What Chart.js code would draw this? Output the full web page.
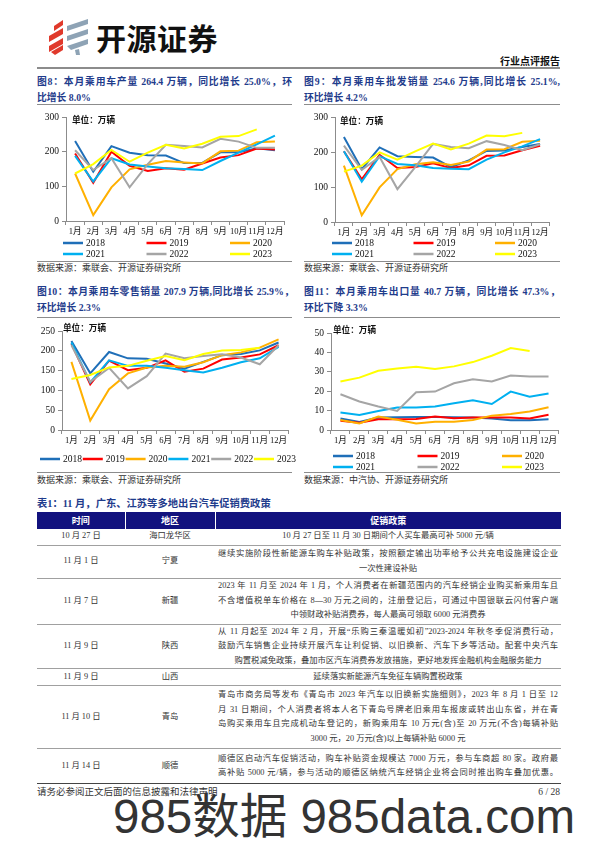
<!DOCTYPE html>
<html>
<head>
<meta charset="utf-8">
<title>行业点评报告 - 乘用车</title>
<script src="https://cdn.jsdelivr.net/npm/chart.js"></script>
<style>
  body { margin: 0; width: 596px; height: 842px; position: relative; overflow: hidden; background: #fff;
         font-family: 'Liberation Serif', 'Noto Sans CJK SC', serif; color: #222; }
  .abs { position: absolute; }
  .ftitle { position: absolute; color: #1f3c8c; font-weight: bold; font-size: 9.8px; line-height: 16px; }
  .just { text-align: justify; text-align-last: justify; }
  .rule { position: absolute; height: 0; border-top: 1px solid #8c8c8c; }
  .src { position: absolute; font-size: 9px; line-height: 12px; color: #333; }
  .unit { position: absolute; font-size: 8.6px; font-weight: bold; color: #111; line-height: 10px; }
  canvas { position: absolute; }
  table { position: absolute; left: 37px; top: 512px; width: 524px; border-collapse: collapse; table-layout: fixed;
          font-size: 8.3px; color: #333; }
  th { background: #12127e; color: #fff; font-weight: bold; height: 17px; padding: 0; font-size: 9px;
       border-left: 1px solid #fff; }
  th:first-child { border-left: none; }
  td { border-bottom: 1px solid #a0a0a0; padding: 0 3px; text-align: center; line-height: 14.6px; }
  tr.last td { border-bottom: 1.5px solid #444; }
  td .j { text-align: justify; text-align-last: justify; }
</style>
</head>
<body>

<!-- 页眉 -->
<svg class="abs" style="left:47px;top:17px" width="46" height="40" viewBox="0 0 46 40">
  <polygon points="7,9 16,3 16,8 7,14" fill="#e0392b"/>
  <polygon points="2,19 16,11 16,17 2,25" fill="#e0392b"/>
  <polygon points="2,29 16,21 16,27 2,35" fill="#e0392b"/>
  <polygon points="4,35 16,28 16,33 8,38" fill="#e0392b"/>
  <polygon points="20,9 41,2 41,7 20,14" fill="#8ea3b5"/>
  <polygon points="20,19 41,12 41,17 20,24" fill="#8ea3b5"/>
  <polygon points="20,29 41,22 41,27 24,33" fill="#8ea3b5"/>
  <polygon points="28,33 32,32 33,38 29,38" fill="#8ea3b5"/>
</svg>
<div class="abs" style="left:96px;top:19px;font-family:'Noto Sans CJK SC';font-weight:bold;font-size:30px;line-height:36px;color:#111;letter-spacing:0.5px">开源证券</div>
<div class="abs" style="left:485px;width:75px;top:56px;font-size:10px;font-weight:bold;line-height:12px;text-align:right;color:#111">行业点评报告</div>
<div class="rule" style="left:37px;top:67px;width:523px;border-top:2px solid #8c8c8c"></div>

<!-- 图标题 -->
<div class="ftitle" style="left:37px;top:74px;width:255px">
  <div class="just">图8：本月乘用车产量 264.4 万辆，同比增长 25.0%，环</div>
  <div>比增长 8.0%</div>
</div>
<div class="ftitle" style="left:304px;top:74px;width:256px">
  <div class="just">图9：本月乘用车批发销量 254.6 万辆,同比增长 25.1%,</div>
  <div>环比增长 4.2%</div>
</div>
<div class="ftitle" style="left:37px;top:284px;width:257px">
  <div class="just">图10：本月乘用车零售销量 207.9 万辆,同比增长 25.9%，</div>
  <div>环比增长 2.3%</div>
</div>
<div class="ftitle" style="left:304px;top:284px;width:256px">
  <div class="just">图11：本月乘用车出口量 40.7 万辆，同比增长 47.3%，</div>
  <div>环比下降 3.3%</div>
</div>

<div class="rule" style="left:37px;top:104px;width:255px"></div>
<div class="rule" style="left:304px;top:104px;width:256px"></div>
<div class="rule" style="left:37px;top:317px;width:255px"></div>
<div class="rule" style="left:304px;top:317px;width:256px"></div>

<canvas id="prodChart" width="255" height="152" style="left:37px;top:106px"></canvas>
<canvas id="wholesaleChart" width="256" height="152" style="left:304px;top:106px"></canvas>
<canvas id="retailChart" width="262" height="152" style="left:37px;top:318px"></canvas>
<canvas id="exportChart" width="256" height="154" style="left:304px;top:318px"></canvas>

<div class="unit" style="left:72px;top:115px">单位：万辆</div>
<div class="unit" style="left:340px;top:116px">单位：万辆</div>
<div class="unit" style="left:63px;top:323px">单位：万辆</div>
<div class="unit" style="left:333px;top:325px">单位：万辆</div>

<div class="rule" style="left:37px;top:261px;width:255px"></div>
<div class="rule" style="left:304px;top:261px;width:256px"></div>
<div class="src" style="left:37px;top:262px">数据来源：乘联会、开源证券研究所</div>
<div class="src" style="left:304px;top:262px">数据来源：乘联会、开源证券研究所</div>
<div class="rule" style="left:37px;top:472px;width:255px"></div>
<div class="rule" style="left:304px;top:472px;width:256px"></div>
<div class="src" style="left:37px;top:474px">数据来源：乘联会、开源证券研究所</div>
<div class="src" style="left:304px;top:474px">数据来源：中汽协、开源证券研究所</div>

<!-- 表1 -->
<div class="ftitle" style="left:37px;top:496px;font-size:10.3px">表1：11 月，广东、江苏等多地出台汽车促销费政策</div>
<table>
  <colgroup><col style="width:88px"><col style="width:90px"><col></colgroup>
  <tr><th>时间</th><th>地区</th><th>促销政策</th></tr>
  <tr style="height:16px"><td>10 月 27 日</td><td>海口龙华区</td><td>10 月 27 日至 11 月 30 日期间个人买车最高可补 5000 元/辆</td></tr>
  <tr style="height:33px"><td>11 月 1 日</td><td>宁夏</td><td>
    <div class="j">继续实施阶段性新能源车购车补贴政策，按照额定输出功率给予公共充电设施建设企业</div>
    <div>一次性建设补贴</div></td></tr>
  <tr style="height:46px"><td>11 月 7 日</td><td>新疆</td><td>
    <div class="j">2023 年 11 月至 2024 年 1 月，个人消费者在新疆范围内的汽车经销企业购买新乘用车且</div>
    <div class="j">不含增值税单车价格在 8—30 万元之间的，注册登记后，可通过中国银联云闪付客户端</div>
    <div>中领财政补贴消费券，每人最高可领取 6000 元消费券</div></td></tr>
  <tr style="height:44px"><td>11 月 9 日</td><td>陕西</td><td>
    <div class="j">从 11 月起至 2024 年 2 月，开展“乐购三秦温暖如初”2023-2024 年秋冬季促消费行动，</div>
    <div class="j">鼓励汽车销售企业持续开展汽车让利促销、以旧换新、汽车下乡等活动。配套中央汽车</div>
    <div>购置税减免政策，叠加市区汽车消费券发放措施，更好地发挥金融机构金融服务能力</div></td></tr>
  <tr style="height:17px"><td>11 月 9 日</td><td>山西</td><td>延续落实新能源汽车免征车辆购置税政策</td></tr>
  <tr style="height:63px"><td>11 月 10 日</td><td>青岛</td><td>
    <div class="j">青岛市商务局等发布《青岛市 2023 年汽车以旧换新实施细则》，2023 年 8 月 1 日至 12</div>
    <div class="j">月 31 日期间，个人消费者将本人名下青岛号牌老旧乘用车报废或转出山东省，并在青</div>
    <div class="j">岛购买乘用车且完成机动车登记的，新购乘用车 10 万元(含)至 20 万元(不含)每辆补贴</div>
    <div>3000 元，20 万元(含)以上每辆补贴 6000 元</div></td></tr>
  <tr class="last" style="height:35px"><td>11 月 14 日</td><td>顺德</td><td>
    <div class="j">顺德区启动汽车促销活动，购车补贴资金规模达 7000 万元，参与车商超 80 家。政府最</div>
    <div class="j">高补贴 5000 元/辆，参与活动的顺德区纳统汽车经销企业将会同时推出购车叠加优惠。</div></td></tr>
</table>

<!-- 页脚 -->
<div class="abs" style="left:37px;top:786px;font-size:9.5px;line-height:12px;color:#333">请务必参阅正文后面的信息披露和法律声明</div>
<div class="abs" style="left:500px;width:60px;top:786px;font-size:9.5px;line-height:12px;color:#333;text-align:right">6 / 28</div>
<div class="abs" style="left:113px;top:793px;font-family:'Liberation Sans','Noto Sans CJK SC';font-size:47.5px;line-height:47px;color:#333;white-space:nowrap">985数据 985data.com</div>

<script>
const months = ['1月', '2月', '3月', '4月', '5月', '6月', '7月', '8月', '9月', '10月', '11月', '12月'];
const years = ['2018', '2019', '2020', '2021', '2022', '2023'];
const yearColors = ['#1f6fb8', '#ff0000', '#ffb000', '#00b0f0', '#a5a5a5', '#ffff00'];

// 图8 乘用车产量（万辆）
const prod2018 = [231, 142, 216, 197, 190, 189, 167, 168, 198, 198, 210, 204];
const prod2019 = [195, 110, 200, 159, 144, 152, 148, 166, 183, 190, 209, 206];
const prod2020 = [137, 17, 97, 149, 162, 173, 169, 166, 201, 203, 227, 229];
const prod2021 = [188, 114, 181, 163, 157, 152, 150, 147, 173, 197, 221, 246];
const prod2022 = [204, 147, 181, 97, 164, 220, 216, 212, 237, 229, 211, 211];
const prod2023 = [137, 164, 205, 171, 197, 220, 209, 223, 243, 245, 264.4];

// 图9 乘用车批发销量（万辆）
const whole2018 = [243, 151, 213, 188, 186, 184, 157, 176, 203, 204, 214, 223];
const whole2019 = [202, 122, 192, 154, 157, 168, 154, 162, 189, 190, 205, 218];
const whole2020 = [161, 19, 99, 151, 165, 171, 163, 173, 207, 208, 229, 232];
const whole2021 = [202, 115, 188, 166, 162, 154, 152, 151, 178, 199, 216, 237];
const whole2022 = [218, 149, 186, 94, 157, 223, 214, 211, 231, 220, 205, 222];
const whole2023 = [144, 161, 199, 178, 202, 224, 207, 224, 247, 245, 254.6];

// 图10 乘用车零售销量（万辆）
const retail2018 = [225, 143, 197, 181, 180, 168, 155, 172, 189, 192, 201, 221];
const retail2019 = [218, 115, 175, 151, 157, 176, 147, 155, 178, 183, 191, 214];
const retail2020 = [172, 24, 103, 143, 158, 162, 160, 171, 189, 196, 208, 229];
const retail2021 = [221, 120, 176, 162, 162, 157, 151, 145, 157, 171, 181, 210];
const retail2022 = [214, 122, 157, 105, 136, 193, 181, 187, 191, 183, 166, 214];
const retail2023 = [129, 139, 158, 162, 175, 187, 176, 192, 201, 202, 207.9];

// 图11 乘用车出口量（万辆）
const exp2018 = [5.9, 4.1, 6.4, 6.6, 6.7, 6.7, 6.6, 6.4, 5.9, 5.0, 5.0, 5.5];
const exp2019 = [4.8, 3.8, 5.5, 5.5, 5.7, 6.9, 6.0, 6.4, 6.4, 6.4, 5.9, 7.9];
const exp2020 = [5.2, 3.4, 6.9, 5.3, 3.3, 4.3, 4.3, 5.2, 7.4, 8.3, 9.5, 11.7];
const exp2021 = [9.0, 7.8, 9.8, 11.6, 11.6, 12.1, 13.8, 15.3, 13.4, 19.8, 17.1, 18.8];
const exp2022 = [18.4, 14.7, 12.1, 9.8, 19.5, 19.8, 24.1, 26.2, 25.0, 28.1, 27.6, 27.6];
const exp2023 = [25.0, 27.0, 30.5, 31.7, 32.6, 31.4, 32.8, 35.0, 38.3, 42.2, 40.7];

const tickFont = "'Liberation Serif', 'Noto Sans CJK SC'";

// 自绘图例：按列对齐，Chart.js 自带图例做不到等距网格
const gridLegend = {
    id: 'gridLegend',
    afterDraw(chart, args, opts) {
        const ctx = chart.ctx;
        ctx.save();
        ctx.font = '9.5px ' + tickFont;
        ctx.textBaseline = 'middle';
        ctx.textAlign = 'left';
        chart.data.datasets.forEach((ds, i) => {
            const col = i % opts.cols;
            const row = Math.floor(i / opts.cols);
            const x = opts.x + col * opts.pitch;
            const y = opts.y + row * opts.rowH;
            ctx.strokeStyle = ds.borderColor;
            ctx.lineWidth = 2.5;
            ctx.beginPath();
            ctx.moveTo(x, y);
            ctx.lineTo(x + 20, y);
            ctx.stroke();
            ctx.fillStyle = '#111';
            ctx.fillText(ds.label, x + 23, y + 0.5);
        });
        ctx.restore();
    }
};

function makeChart(id, series, yMax, yStep, geo) {
    new Chart(document.getElementById(id), {
        type: 'line',
        data: {
            labels: months,
            datasets: series.map((vals, i) => ({
                label: years[i],
                data: vals,
                borderColor: yearColors[i],
                backgroundColor: yearColors[i],
                borderWidth: 2,
                pointRadius: 0,
                tension: 0,
                order: series.length - 1 - i
            }))
        },
        options: {
            responsive: false,
            devicePixelRatio: 1,
            animation: false,
            layout: { padding: { top: geo.top, right: geo.right, bottom: geo.bottom, left: 0 } },
            plugins: {
                legend: { display: false },
                tooltip: { enabled: false },
                gridLegend: geo.legend
            },
            scales: {
                x: {
                    offset: true,
                    grid: { offset: true, drawOnChartArea: false, tickLength: 4, color: '#8c8c8c' },
                    border: { color: '#8c8c8c' },
                    ticks: { autoSkip: false, maxRotation: 0, padding: 2, color: '#111',
                             font: { family: tickFont, size: 8.6 } },
                    afterFit: s => { s.height = 20; }
                },
                y: {
                    min: 0, max: yMax,
                    grid: { drawOnChartArea: false, tickLength: 4, color: '#8c8c8c' },
                    border: { color: '#8c8c8c' },
                    ticks: { stepSize: yStep, padding: 3, color: '#111',
                             font: { family: tickFont, size: 9.5 } },
                    afterFit: s => { s.width = geo.axisW; }
                }
            }
        },
        plugins: [gridLegend]
    });
}

makeChart('prodChart', [prod2018, prod2019, prod2020, prod2021, prod2022, prod2023], 300, 100,
    { top: 11, right: 8, bottom: 17, axisW: 29,
      legend: { x: 26, y: 137, pitch: 83.5, rowH: 11, cols: 3 } });
makeChart('wholesaleChart', [whole2018, whole2019, whole2020, whole2021, whole2022, whole2023], 300, 100,
    { top: 11, right: 11, bottom: 16, axisW: 31,
      legend: { x: 28, y: 137, pitch: 81.5, rowH: 11, cols: 3 } });
makeChart('retailChart', [retail2018, retail2019, retail2020, retail2021, retail2022, retail2023], 250, 50,
    { top: 13, right: 11, bottom: 20, axisW: 25,
      legend: { x: 3, y: 141, pitch: 42.8, rowH: 11, cols: 6 } });
makeChart('exportChart', [exp2018, exp2019, exp2020, exp2021, exp2022, exp2023], 50, 10,
    { top: 15, right: 2, bottom: 22, axisW: 27,
      legend: { x: 29, y: 138, pitch: 84.5, rowH: 11, cols: 3 } });
</script>
</body>
</html>
